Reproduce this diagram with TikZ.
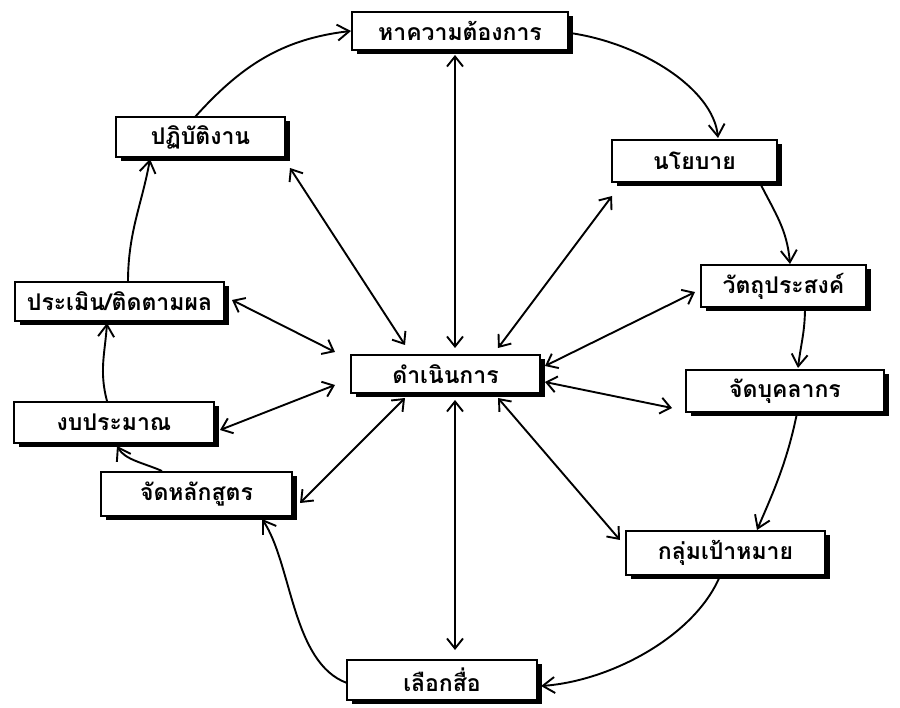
\documentclass[tikz,border=0pt]{standalone}
\usepackage{fontspec}
\newfontfamily\thaifont[Script=Thai]{Loma}
\usetikzlibrary{arrows.meta,shadows}
\begin{document}
\begin{tikzpicture}[x=1pt,y=-1pt,
 box/.style={draw=black, line width=1.7pt, fill=white, inner sep=0pt,
   font=\thaifont\bfseries\fontsize{23}{26}\selectfont,
   drop shadow={shadow xshift=4.5pt,shadow yshift=-4pt,fill=black,opacity=1}},
 spoke/.style={line width=1.9pt, {Straight Barb[length=10pt,width=16pt]}-{Straight Barb[length=10pt,width=16pt]}},
 cyc/.style={line width=1.9pt, -{Straight Barb[length=12pt,width=16pt]}}]
\useasboundingbox (0,0) rectangle (900,708);
\fill[white] (0,0) rectangle (900,708);

\node[box, minimum width=216pt, minimum height=38pt] (A) at (460,31) {หาความต้องการ};
\node[box, minimum width=165pt, minimum height=42pt] (B) at (694.5,161) {นโยบาย};
\node[box, minimum width=165pt, minimum height=42pt] (C) at (783.5,286) {วัตถุประสงค์};
\node[box, minimum width=198pt, minimum height=42pt] (D) at (785,391) {จัดบุคลากร};
\node[box, minimum width=199pt, minimum height=44pt] (E) at (725.5,553) {กลุ่มเป้าหมาย};
\node[box, minimum width=190pt, minimum height=40pt] (F) at (442,680) {เลือกสื่อ};
\node[box, minimum width=191pt, minimum height=44pt] (G) at (196.5,494) {จัดหลักสูตร};
\node[box, minimum width=200pt, minimum height=41pt] (H) at (114,422.5) {งบประมาณ};
\node[box, minimum width=209pt, minimum height=39pt] (I) at (119.5,301.5) {ประเมิน/ติดตามผล};
\node[box, minimum width=169pt, minimum height=40pt] (J) at (200.5,137) {ปฏิบัติงาน};
\node[box, minimum width=189pt, minimum height=38pt] (K) at (445.5,374) {ดำเนินการ};

% spokes
\draw[spoke] ([shift={(9.5,-26)}]K.center) -- ([shift={(-5,24)}]A.center);
\draw[spoke] ([shift={(-40.5,-29)}]K.center) -- ([shift={(89.5,31)}]J.center);
\draw[spoke] ([shift={(-110.5,-22)}]K.center) -- ([shift={(112.5,-1.5)}]I.center);
\draw[spoke] ([shift={(-110.5,11)}]K.center) -- ([shift={(106,7.5)}]H.center);
\draw[spoke] ([shift={(-40.5,24)}]K.center) -- ([shift={(103.5,9)}]G.center);
\draw[spoke] ([shift={(9.5,26)}]K.center) -- ([shift={(13,-30)}]F.center);
\draw[spoke] ([shift={(52.5,24)}]K.center) -- ([shift={(-105.5,-13)}]E.center);
\draw[spoke] ([shift={(99.5,8)}]K.center) -- ([shift={(-113,17)}]D.center);
\draw[spoke] ([shift={(99.5,-8)}]K.center) -- ([shift={(-88.5,6)}]C.center);
\draw[spoke] ([shift={(52.5,-26)}]K.center) -- ([shift={(-82.5,35)}]B.center);

% cycle
\draw[cyc] ([shift={(110,2)}]A.center) .. controls +(70,10) and +(-5,-50) .. ([shift={(23.5,-23)}]B.center);
\draw[cyc] ([shift={(65.5,22)}]B.center) .. controls +(15,30) and +(-3,-35) .. ([shift={(6.5,-22)}]C.center);
\draw[cyc] ([shift={(21.5,21)}]C.center) .. controls +(0,25) and +(3,-25) .. ([shift={(13,-23)}]D.center);
\draw[cyc] ([shift={(12,22)}]D.center) .. controls +(-10,50) and +(15,-35) .. ([shift={(31.5,-23)}]E.center);
\draw[cyc] ([shift={(-5.5,23)}]E.center) .. controls +(-25,60) and +(70,-5) .. ([shift={(99,6)}]F.center);
\draw[cyc] ([shift={(-95,3)}]F.center) .. controls +(-55,-20) and +(30,45) .. ([shift={(65.5,25)}]G.center);
\draw[cyc] ([shift={(-34.5,-23)}]G.center) .. controls +(-18,-8) and +(8,14) .. ([shift={(3,23.5)}]H.center);
\draw[cyc] ([shift={(-7,-21.5)}]H.center) .. controls +(-8,-30) and +(-2,30) .. ([shift={(-12.5,21.5)}]I.center);
\draw[cyc] ([shift={(8.5,-19.5)}]I.center) .. controls +(0,-50) and +(-8,45) .. ([shift={(-50.5,22)}]J.center);
\draw[cyc] ([shift={(-5.5,-20)}]J.center) .. controls +(45,-50) and +(-70,8) .. ([shift={(-109,0)}]A.center);
\end{tikzpicture}
\end{document}
